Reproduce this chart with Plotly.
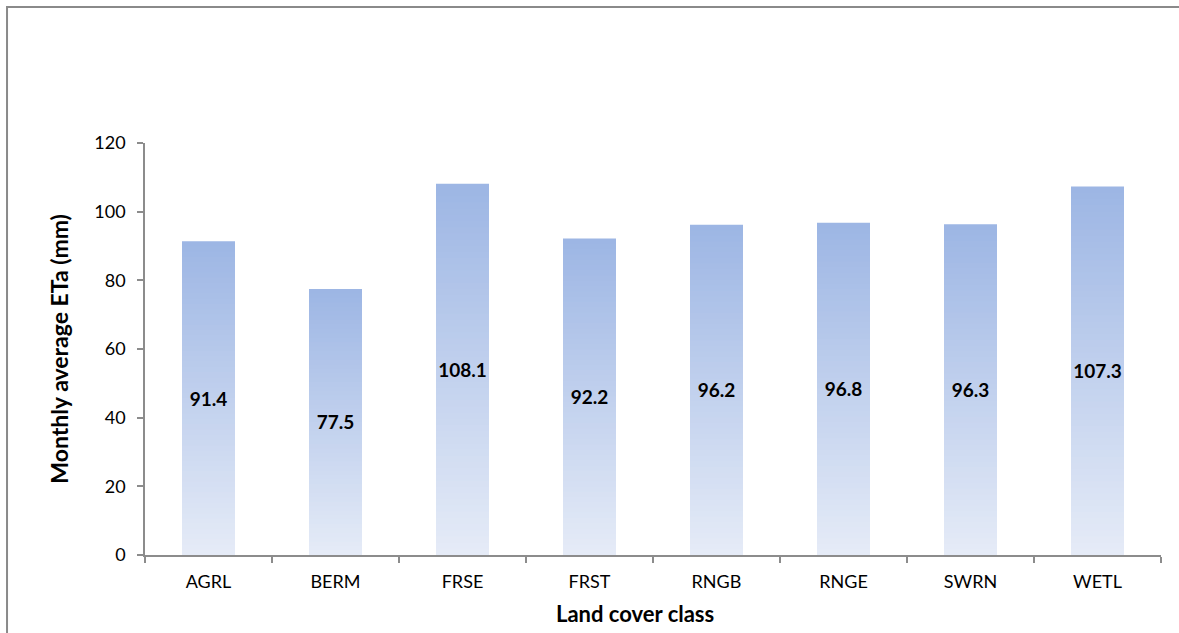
import plotly.graph_objects as go

# Monthly average actual evapotranspiration by land cover class
categories = ["AGRL", "BERM", "FRSE", "FRST", "RNGB", "RNGE", "SWRN", "WETL"]
eta_mm = [91.4, 77.5, 108.1, 92.2, 96.2, 96.8, 96.3, 107.3]
y_ticks = [0, 20, 40, 60, 80, 100, 120]

FONT = "Lato"
TOP_RGB = (157, 182, 228)
BOTTOM_RGB = (229, 235, 247)
BANDS = 60
# plot area is 1016 px wide -> 127 px per category; 53 px bars keep edges on whole pixels
BAR_WIDTH = 53 / 127
AXIS_GREY = "#8c8c8c"


def band_color(t):
    r, g, b = (round(TOP_RGB[i] + (BOTTOM_RGB[i] - TOP_RGB[i]) * t) for i in range(3))
    return f"rgb({r},{g},{b})"


fig = go.Figure()

# Vertical gradient fill: full-height bars first, then progressively
# shorter and lighter bars laid over them (overlay mode).
for k in range(BANDS):
    frac = (BANDS - k) / BANDS
    fig.add_trace(go.Bar(
        x=categories,
        y=[v * frac for v in eta_mm],
        width=BAR_WIDTH,
        marker=dict(color=band_color(k / (BANDS - 1)), line=dict(width=0)),
        hoverinfo="skip",
        showlegend=False,
    ))

# Value labels centred inside each bar
fig.add_trace(go.Bar(
    x=categories,
    y=eta_mm,
    width=BAR_WIDTH,
    marker=dict(color="rgba(0,0,0,0)", line=dict(width=0)),
    text=[f"{v:.1f}" for v in eta_mm],
    textposition="inside",
    insidetextanchor="middle",
    textangle=0,
    constraintext="none",
    textfont=dict(family=FONT, size=19, color="#000000", weight="bold"),
    showlegend=False,
    hovertemplate="%{x}: %{y:.1f} mm<extra></extra>",
))

fig.update_layout(
    width=1179,
    height=633,
    margin=dict(l=145, r=18, t=143, b=78),
    paper_bgcolor="white",
    plot_bgcolor="white",
    barmode="overlay",
    showlegend=False,
    font=dict(family=FONT, size=18, color="#000000"),
    xaxis=dict(
        type="category",
        showgrid=False,
        showline=True,
        linecolor=AXIS_GREY,
        linewidth=1.5,
        ticks="outside",
        tickson="boundaries",
        ticklen=6,
        tickwidth=1.5,
        tickcolor=AXIS_GREY,
        ticklabelstandoff=10,
        tickfont=dict(family=FONT, size=18, color="#000000"),
        range=[-0.5, len(categories) - 0.5],
    ),
    yaxis=dict(
        range=[0, 120],
        tickvals=y_ticks,
        showgrid=False,
        zeroline=False,
        showline=True,
        linecolor=AXIS_GREY,
        linewidth=1.5,
        ticks="outside",
        ticklen=6,
        tickwidth=1.5,
        tickcolor=AXIS_GREY,
        ticklabelstandoff=8,
        tickfont=dict(family=FONT, size=18, color="#000000"),
    ),
    annotations=[
        dict(
            text="<b>Land cover class</b>",
            xref="paper", yref="paper",
            x=0.482, y=-0.142,
            xanchor="center", yanchor="middle",
            showarrow=False,
            font=dict(family=FONT, size=22, color="#000000"),
        ),
        dict(
            text="<b>Monthly average ETa (mm)</b>",
            xref="paper", yref="paper",
            x=-0.085, y=0.50,
            xanchor="center", yanchor="middle",
            textangle=-90,
            showarrow=False,
            font=dict(family=FONT, size=23, color="#000000"),
        ),
    ],
    shapes=[
        # Chart-area frame (left and top edges fall inside the view)
        dict(
            type="rect",
            xref="paper", yref="paper",
            x0=-0.1358, x1=1.05,
            y0=-0.3, y1=1.330,
            line=dict(color="#8a8a8a", width=2),
            fillcolor="rgba(0,0,0,0)",
            layer="below",
        ),
    ],
)

fig.write_html("out.html")
